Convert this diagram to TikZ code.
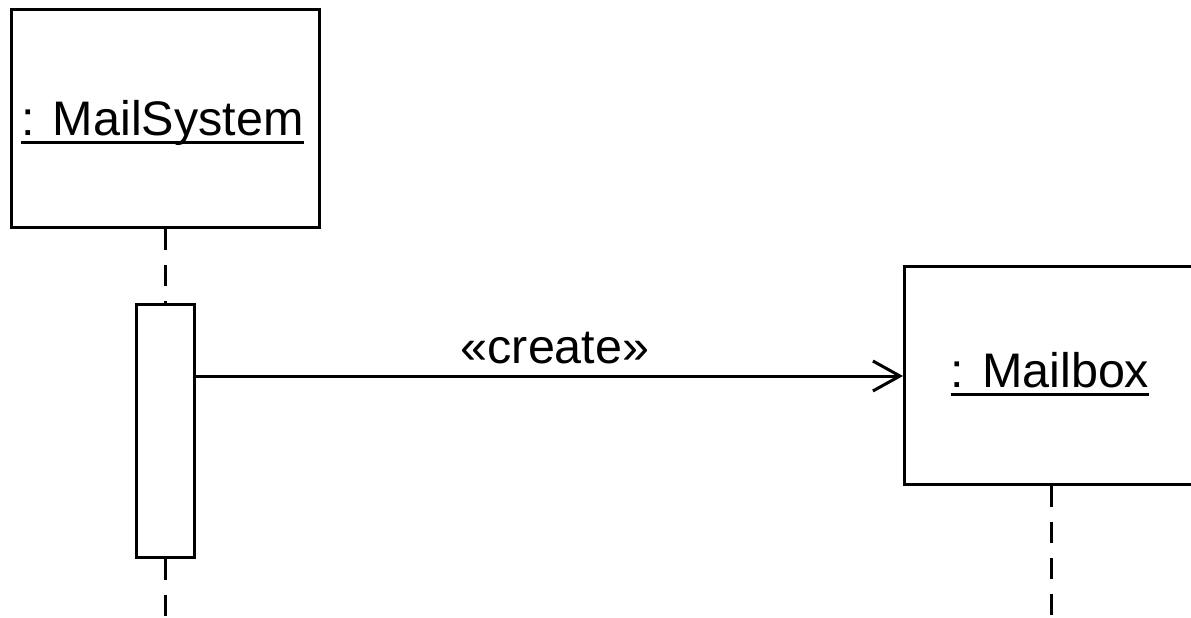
\documentclass[tikz,border=0pt]{standalone}
\usepackage{fontspec}
\setmainfont{Liberation Sans}
\usetikzlibrary{arrows.meta}
\begin{document}
\begin{tikzpicture}[x=1pt,y=-1pt,
  obj/.style={draw,line width=3pt,inner sep=0pt,rectangle},
  lbl/.style={inner sep=0pt,font=\fontsize{48.5}{58}\selectfont},
  lifeline/.style={line width=3pt,dash pattern=on 21pt off 15pt},
  msg/.style={line width=3pt,-{Straight Barb[length=27pt,width=30pt]}},
  uline/.style={line width=3pt}
]
\useasboundingbox (0,0) rectangle (1191,618);
\clip (0,0) rectangle (1191,618);
\fill[white] (0,0) rectangle (1191,618);
% objects
\node[obj,minimum width=308pt,minimum height=218pt] (box1) at (165.5,118.5) {};
\node[lbl,anchor=base] (ms) at (162.5,135) {: MailSystem};
\draw[uline] ([yshift=-7pt]ms.base west) -- ([yshift=-7pt]ms.base east);
\node[obj,minimum width=345.5pt,minimum height=218pt] (box2) at (1077.25,375.5) {};
\node[lbl,anchor=base] (mb) at (1050,387) {: Mailbox};
\draw[uline] ([yshift=-7pt]mb.base west) -- ([yshift=-7pt]mb.base east);
% activation
\node[obj,minimum width=58pt,minimum height=253pt] (act) at (165.5,431) {};
% lifelines
\coordinate (l1end) at (165.5,618);
\coordinate (l2end) at (1051,618);
\draw[lifeline] (box1.south) -- (act.north);
\draw[lifeline] (act.south) -- (l1end);
\draw[lifeline] (l2end |- box2.south) -- (l2end);
% message
\coordinate (msgy) at (0,376);
\draw[msg] (act.east |- msgy) -- (box2.west |- msgy);
\node[lbl,anchor=base] (cr) at (555,363) {«create»};
\end{tikzpicture}
\end{document}
